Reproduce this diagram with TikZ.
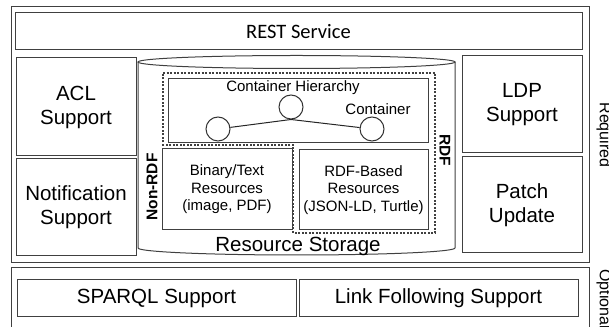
\documentclass[tikz,border=0pt]{standalone}
\usepackage{fontspec}
\setmainfont{Liberation Sans}
\newfontfamily\calibrifont{Carlito}

\tikzset{
  box/.style={draw=black!75, line width=1pt, align=center, inner sep=0pt,
              font=\fontsize{20.5}{24}\selectfont},
  smallbox/.style={box, font=\fontsize{15}{17.5}\selectfont},
  hub/.style={draw=black!80, line width=1pt, circle, minimum size=24pt, inner sep=0pt},
  sidelabel/.style={font=\bfseries\fontsize{15.5}{18}\selectfont, inner sep=0pt},
  layerlabel/.style={font=\fontsize{16}{19}\selectfont, rotate=-90, inner sep=0pt},
  rdfzone/.style={draw=black!75, line width=1.2pt, dash pattern=on 2pt off 1.5pt}
}

\begin{document}
\begin{tikzpicture}
\useasboundingbox (0pt,0pt) rectangle (609pt,326pt);
\begin{scope}[line width=1pt, black!75]

% layers
\draw (11pt,63pt) rectangle (589pt,319pt);
\draw (11pt,-3pt) rectangle (589pt,58pt);
\node[layerlabel, text=black] (required) at (604pt,191pt) {Required};
\node[layerlabel, text=black, anchor=west] (optional) at (604pt,57pt) {Optional};

\node[box, text=black, minimum width=567pt, minimum height=37pt,
      font=\calibrifont\fontsize{20.5}{24}\selectfont]
     (rest) at (298.5pt,294.5pt) {REST Service};

\node[box, text=black, minimum width=120pt, minimum height=98pt]
     (acl) at (76pt,219pt) {ACL\\Support};
\node[box, text=black, minimum width=120pt, minimum height=97pt]
     (notification) at (76pt,118.5pt) {Notification\\Support};
\node[box, text=black, minimum width=120pt, minimum height=97pt]
     (ldp) at (522pt,221.5pt) {LDP\\Support};
\node[box, text=black, minimum width=120pt, minimum height=96pt]
     (patch) at (522pt,121pt) {Patch\\Update};

% resource storage
\draw (138pt,264pt) -- (138pt,78pt)
      arc[start angle=180, end angle=360, x radius=158.5pt, y radius=7pt]
      -- (455pt,264pt);
\draw (296.5pt,264pt) ellipse[x radius=158.5pt, y radius=6.5pt];
\node[text=black, font=\fontsize{20.5}{24}\selectfont]
     (storage) at (298pt,80pt) {Resource Storage};

\draw[rdfzone] (163pt,253pt) -- (435pt,253pt) -- (435pt,93pt) -- (293pt,93pt)
      -- (293pt,181pt) -- (163pt,181pt) -- cycle;

\node[box, minimum width=260pt, minimum height=64pt] (hierarchy) at (298pt,215pt) {};
\node[text=black, font=\fontsize{15}{18}\selectfont] (hierarchylabel) at (293pt,238pt)
     {Container Hierarchy};
\node[hub] (ctop) at (291pt,219pt) {};
\node[hub] (cleft) at (218pt,197pt) {};
\node[hub] (cright) at (372pt,197pt) {};
\draw[black!85] (cleft) -- (ctop.south) -- (cright);
\node[text=black, font=\fontsize{15}{18}\selectfont] (containerlabel) at (378pt,217pt)
     {Container};

\node[smallbox, text=black, minimum width=130pt, minimum height=81pt]
     (binary) at (227pt,136.5pt) {Binary/Text\\Resources\\(image, PDF)};
\node[smallbox, text=black, minimum width=129pt, minimum height=80pt]
     (rdfbased) at (363.5pt,136pt) {RDF-Based\\Resources\\(JSON-LD, Turtle)};

\node[sidelabel, text=black, rotate=90] (nonrdf) at (152pt,139pt) {Non-RDF};
\node[sidelabel, text=black, rotate=-90] (rdf) at (445pt,176pt) {RDF};

% optional features
\node[box, text=black, minimum width=279pt, minimum height=36pt]
     (sparql) at (156.5pt,28pt) {SPARQL Support};
\node[box, text=black, minimum width=279pt, minimum height=36pt]
     (linkfollow) at (438.5pt,28pt) {Link Following Support};

\end{scope}
\end{tikzpicture}
\end{document}
